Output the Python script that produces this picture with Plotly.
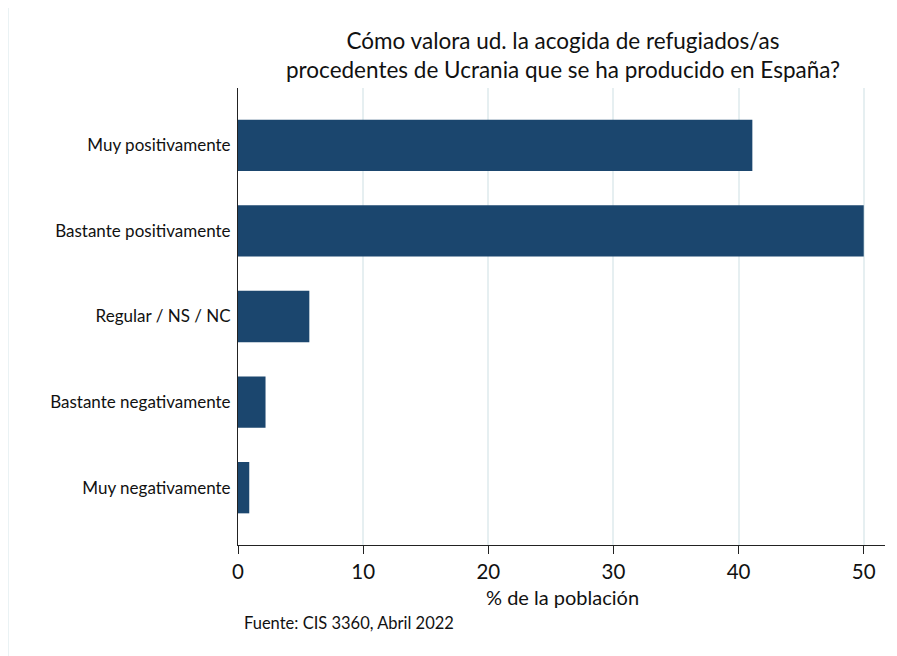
import plotly.graph_objects as go

categories = ["Muy positivamente", "Bastante positivamente", "Regular / NS / NC",
              "Bastante negativamente", "Muy negativamente"]
values = [41.1, 50.0, 5.7, 2.2, 0.9]
x_ticks = [0, 10, 20, 30, 40, 50]

title_lines = ["Cómo valora ud. la acogida de refugiados/as",
               "procedentes de Ucrania que se ha producido en España?"]
x_title = "% de la población"
note = "Fuente: CIS 3360, Abril 2022"

# page body has an 8px margin; compensate so the picture lines up
OFF = 8
W, H = 897 - OFF, 656 - OFF
L, R, T, B = 238 - OFF, 12, 88 - OFF, 111
pw, ph = W - L - R, H - T - B

def px_x(p):
    return (p - OFF - L) / pw

def px_y(p):
    return (H - B - (p - OFF)) / ph

font = "Lato, 'Open Sans', sans-serif"
txt = "#111111"

fig = go.Figure(go.Bar(
    x=values, y=categories, orientation="h",
    marker=dict(color="#1b466e", line=dict(width=0)),
    width=0.6,
))

annotations = [
    dict(text="<br>".join(title_lines), xref="paper", yref="paper",
         x=px_x(563), y=px_y(55), xanchor="center", yanchor="middle",
         showarrow=False, align="center",
         font=dict(size=22.5, family=font, color=txt)),
    dict(text=x_title, xref="paper", yref="paper", x=px_x(562), y=px_y(597),
         xanchor="center", yanchor="middle", showarrow=False,
         font=dict(size=20, family=font, color=txt)),
    dict(text=note, xref="paper", yref="paper", x=px_x(242), y=px_y(623),
         xanchor="left", yanchor="middle", showarrow=False,
         font=dict(size=16.5, family=font, color=txt)),
]

fig.update_layout(
    width=W, height=H,
    margin=dict(l=L, r=R, t=T, b=B, pad=0, autoexpand=False),
    paper_bgcolor="white", plot_bgcolor="white",
    font=dict(family=font, color=txt),
    showlegend=False,
    xaxis=dict(
        range=[0, 51.7], tickvals=x_ticks, ticktext=[str(v) for v in x_ticks],
        showgrid=True, gridcolor="#e6eff1", gridwidth=2,
        zeroline=False, showline=True, linecolor="#222222", linewidth=1,
        ticks="outside", ticklen=8, tickcolor="#222222", tickwidth=1,
        ticklabelstandoff=0,
        tickfont=dict(size=20.5, family=font, color=txt),
        automargin=False,
    ),
    yaxis=dict(
        categoryorder="array", categoryarray=categories, autorange=False,
        range=[4.67, -0.67],
        showgrid=False, zeroline=False, showline=True, linecolor="#222222", linewidth=1,
        ticks="", ticklabelstandoff=3,
        tickfont=dict(size=17, family=font, color=txt),
        automargin=False,
    ),
    annotations=annotations,
    shapes=[dict(
        type="rect", xref="paper", yref="paper",
        x0=px_x(8), x1=px_x(905), y0=px_y(665), y1=px_y(5),
        line=dict(color="#e3eef1", width=1.5), fillcolor="rgba(0,0,0,0)", layer="below",
    )],
)

fig.write_html("out.html")
